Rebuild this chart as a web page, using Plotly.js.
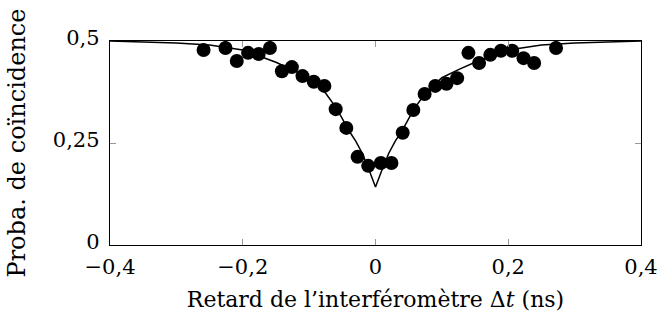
<!DOCTYPE html>
<html>
<head>
<meta charset="utf-8">
<script src="https://cdn.plot.ly/plotly-3.0.1.min.js"></script>
<style>html,body{margin:0;padding:0;background:#fff;}#chart{width:657px;height:327px;}</style>
</head>
<body>
<div id="chart"></div>
<script>
// Measured data points
const delayNs = [-0.259, -0.226, -0.209, -0.192, -0.176, -0.159, -0.141, -0.126, -0.110, -0.093, -0.077, -0.060, -0.044, -0.027, -0.011,
                 0.008, 0.024, 0.041, 0.057, 0.074, 0.090, 0.107, 0.123, 0.140, 0.156, 0.173, 0.189, 0.206, 0.223, 0.239, 0.272];
const coincidence = [0.478, 0.483, 0.451, 0.471, 0.468, 0.483, 0.426, 0.436, 0.414, 0.400, 0.390, 0.333, 0.287, 0.216, 0.194,
                     0.201, 0.201, 0.275, 0.331, 0.370, 0.390, 0.395, 0.409, 0.471, 0.446, 0.466, 0.476, 0.476, 0.458, 0.446, 0.483];
// Fit curve
const fitT = [-0.4, -0.35, -0.3, -0.25, -0.2, -0.15, -0.125, -0.1, -0.075, -0.06, -0.05, -0.04, -0.03, -0.02, -0.01, 0,
              0.01, 0.02, 0.03, 0.04, 0.05, 0.06, 0.075, 0.1, 0.125, 0.15, 0.2, 0.25, 0.3, 0.35, 0.4];
const fitP = [0.500, 0.498, 0.495, 0.490, 0.478, 0.448, 0.430, 0.410, 0.372, 0.338, 0.310, 0.280, 0.255, 0.225, 0.185, 0.142,
              0.185, 0.225, 0.255, 0.280, 0.310, 0.338, 0.372, 0.410, 0.430, 0.448, 0.478, 0.490, 0.495, 0.498, 0.500];
const xTicks = [-0.4, -0.2, 0, 0.2, 0.4];
const xTickText = ["\u22120,4", "\u22120,2", "0", "0,2", "0,4"];
const yTicks = [0, 0.25, 0.5];
const yTickText = ["0", "0,25", "0,5"];

const font = "DejaVu Serif, Liberation Serif, serif";
const traces = [
  {x: fitT, y: fitP, mode: "lines", line: {color: "black", width: 1.5}, hoverinfo: "skip"},
  {x: delayNs, y: coincidence, mode: "markers", marker: {color: "black", size: 14}}
];
const layout = {
  width: 657, height: 327,
  margin: {l: 110, r: 16, t: 41, b: 82},
  showlegend: false,
  paper_bgcolor: "white", plot_bgcolor: "white",
  font: {family: font, size: 21, color: "black"},
  xaxis: {
    range: [-0.4, 0.4], tickvals: xTicks, ticktext: xTickText,
    ticks: "inside", ticklen: 6, tickcolor: "#999", tickwidth: 1,
    ticklabelstandoff: 3, ticklabeloverflow: "allow",
    showline: true, linecolor: "black", linewidth: 1.2, mirror: "ticks",
    showgrid: false, zeroline: false,
    title: {text: "Retard de l\u2019interf\u00e9rom\u00e8tre \u0394<i>t</i> (ns)", font: {family: font, size: 22}, standoff: 13}
  },
  yaxis: {
    range: [0, 0.5], tickvals: yTicks, ticktext: yTickText,
    ticks: "inside", ticklen: 6, tickcolor: "#999", tickwidth: 1,
    ticklabelshift: -3, ticklabelstandoff: 5, ticklabeloverflow: "allow",
    showline: true, linecolor: "black", linewidth: 1.2, mirror: "ticks",
    showgrid: false, zeroline: false,
    title: {text: "Proba. de co\u00efncidence", font: {family: font, size: 24}, standoff: 20}
  }
};
Plotly.newPlot("chart", traces, layout, {displayModeBar: false, staticPlot: true});
</script>
</body>
</html>
